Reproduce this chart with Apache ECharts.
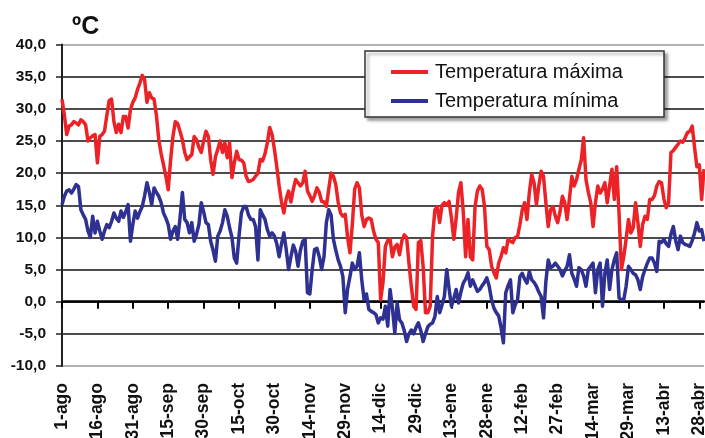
<!DOCTYPE html>
<html>
<head>
<meta charset="utf-8">
<script src="https://cdn.jsdelivr.net/npm/echarts@6/dist/echarts.min.js"></script>
<style>html,body{margin:0;padding:0;background:#fff;}#c{width:705px;height:438px;}</style>
</head>
<body>
<div id="c"></div>
<script>
var monthNames = ['ago','sep','oct','nov','dic','ene','feb','mar','abr'];
var monthDays = [31,30,31,30,31,31,28,31,30];
var yTicks = [-10,-5,0,5,10,15,20,25,30,35,40];

var tMax = [31.5,29,26,27.3,27.5,28,27.8,27.5,28.3,28,27.5,25,25.5,25.8,26,21.6,25.7,26,26.5,29,31.3,31.5,28,26.3,27.6,26.3,28.8,28.8,27,29.9,31,31.7,33,34,35.2,34.5,31,32.5,31.7,31.5,29,25.2,23,21.3,19.5,17.4,22,25.7,28,27.7,26.5,25.2,23.2,22.1,22.5,22.9,25.7,25.2,24,23.2,25,26.5,25.7,22,19.8,22.5,23.7,25,23.2,24.7,22.4,24.7,19.3,21.6,23.4,22.1,22,21.6,19.5,18.7,18.8,19,19.5,20,22.1,21.9,23,24.7,27.1,26,23.7,21,18,15.5,13.8,16,17.2,15.5,17.5,19,18.5,18,18.5,20.3,17.2,16.5,15.6,16.5,17.7,17,15.6,15.5,14.8,17.5,20,19.5,18.2,15.5,13.8,13.3,13.6,10,7.6,12,17.5,18.5,17.7,13.5,11.7,12.8,13,12.8,11,9.7,9.2,0.3,3,8.6,9.5,9.7,7,8.5,8.9,7.3,9.5,10.4,10,6,2.4,-0.7,-1.2,9.2,9.5,5.5,-1.7,-1.7,-0.7,10.2,14.3,14.8,12.3,15,15.4,15,15.6,13,9.7,13,17,18.5,14,7,12.8,7,6.5,14.8,17.2,18,17.5,14.8,8.6,8.1,5.5,4.5,3.7,6,7,8.4,7.6,9.7,9.4,9.2,10,10.1,12,14.3,15.4,12.8,17,19.8,18.5,15.1,18,20.3,19.5,15.4,11.7,14.3,14.8,13.3,12.3,14,16.4,15.4,12.8,16,19.5,18,19,20.6,22,25.5,19,17,15.4,11.7,15.4,18,16.9,17.5,18.5,15.4,18,20.6,15.9,21,13.8,5,7,9.7,12.8,10.7,11.5,15.4,12.3,8.6,12,13.3,12.8,15.9,15.9,16.5,18,18.7,18.5,16,14.6,15.4,23.2,23.5,24,24.5,25,24.8,25.5,26.3,26.5,27.3,24,21,21.3,15.9,20.6];

var tMin = [15.1,16.4,17.2,17.4,16.9,17.5,18.2,17.9,14.3,13.5,12.8,11,10,13.3,10.7,12.5,11,9.7,11,12,11.5,12.5,13.8,13,12.5,14.1,13.1,14,15.1,9.4,12,14.1,13,14,14.8,16.5,18.5,17,15.1,17.7,17,16.4,15.4,13.8,13,12,9.7,11,11.7,9.7,13,17,12.8,12.3,10.7,12.3,9.4,10.5,12,15.4,14,12.3,12,9.4,8,6.3,10.2,11,12.3,14.3,13.3,11.5,10,6.8,6,10.2,13.8,14.8,14.8,13.5,12.8,12.8,11.7,6.5,14.3,13.5,12.8,11.2,10.2,10.7,10.2,9,7,9,10.7,8.1,5,7,8.8,7.8,5.5,8,9.4,9.7,1.4,1.2,5,8.1,8.3,7,5,7,12.3,14.3,13.5,9.7,8,6.5,5.5,3.9,-1.7,2,3.9,6,5,5.5,7.6,3.4,0.3,1.2,-1.2,-1.5,-1.7,-2,-3.3,-2.5,-2.7,-0.7,-3.8,1.9,-1,-4.9,-0.2,-2.8,-3.3,-4.5,-6.2,-5,-4.4,-5,-4,-3.3,-4.5,-6.2,-5,-3.9,-3.5,-3.3,-2.3,0.8,-1.7,-0.5,0.8,5,2,-0.7,0.5,1.9,-0.2,1.5,2.9,3.5,4.5,2.4,3.4,2.5,1.6,1.9,2.5,3,3.7,2.4,0.3,-1,-1.7,-2.2,-4,-6.4,1.4,2.5,3.4,-1.7,-0.5,0.3,3.9,4.4,3.5,2.9,4.7,3.4,3,2.4,1.5,0.8,-2.5,3.1,6.5,5.3,5.5,6,5.5,5,4,4.8,5.5,7.3,4.4,3.5,2.4,5.3,5,4,2.4,5,5.5,6,1.4,5,6,-0.7,4.4,6.5,1.9,5,6.5,7.6,0.6,0.3,0.3,2.4,5.5,5,4.4,4.2,3.4,1.9,3.9,5,6,6.8,6.8,6,4.7,9.4,9.2,9.7,9,8.6,10.5,11.7,9.5,8.1,10.2,9.2,8.9,8.8,8.6,9.5,10.7,12.3,11,11.2,9.4];

var days = [];
monthNames.forEach(function(m, i){
  for (var d = 1; d <= monthDays[i]; d++) days.push(d + '-' + m);
});
var n = Math.max(tMax.length, tMin.length);
days = days.slice(0, Math.max(n, 1));

var chart = echarts.init(document.getElementById('c'));
var FONT = '"Liberation Sans", Arial, sans-serif';
var splitColors = yTicks.map(function(v, i){ return (i === 0 || i === yTicks.length - 1) ? '#9a9a9a' : '#111'; });
var every15 = function(i){ return i % 15 === 0; };

chart.setOption({
  animation: false,
  backgroundColor: '#fff',
  title: {
    text: 'ºC', left: 67, top: 10,
    textStyle: { fontFamily: FONT, fontSize: 25, fontWeight: 'bold', color: '#111' }
  },
  graphic: [{
    type: 'rect', z: 50,
    shape: { x: 365, y: 51, width: 299, height: 66 },
    style: { fill: '#fff', stroke: '#333', lineWidth: 1.5,
             shadowBlur: 3, shadowOffsetX: 3, shadowOffsetY: 3, shadowColor: 'rgba(0,0,0,0.35)' }
  }],
  legend: {
    orient: 'vertical', left: 386, top: 57, z: 60,
    itemWidth: 37, itemHeight: 4, itemGap: 9, icon: 'rect',
    textStyle: { fontFamily: FONT, fontSize: 20, color: '#111', padding: [0,0,0,2] },
    data: ['Temperatura máxima', 'Temperatura mínima']
  },
  grid: { left: 62, right: 1, top: 44.5, bottom: 72, containLabel: false, outerBoundsMode: 'none' },
  xAxis: [{
    type: 'category', data: days, boundaryGap: false,
    axisLine: { onZero: true, lineStyle: { color: '#000', width: 2.5 } },
    axisTick: { show: true, interval: every15, length: 7, inside: false, lineStyle: { color: '#000', width: 2 } },
    axisLabel: { show: false },
    splitLine: { show: false }
  }, {
    type: 'category', data: days, boundaryGap: false, position: 'bottom',
    axisLine: { show: false, onZero: false },
    axisTick: { show: false },
    axisLabel: { show: true, interval: every15, rotate: 90, margin: 17, hideOverlap: false,
                 fontFamily: FONT, fontSize: 17.5, fontWeight: 'bold', color: '#111' },
    splitLine: { show: false }
  }],
  yAxis: {
    type: 'value', min: -10, max: 40, interval: 5,
    axisLine: { show: true, lineStyle: { color: '#222', width: 2 } },
    axisTick: { show: true, length: 6, lineStyle: { color: '#222', width: 1.5 } },
    axisLabel: { margin: 16, fontFamily: FONT, fontSize: 15.5, fontWeight: 'bold', color: '#111',
                 formatter: function(v){ return v.toFixed(1).replace('.', ','); } },
    splitLine: { show: true, lineStyle: { color: splitColors, width: 1.5 } }
  },
  series: [{
    name: 'Temperatura máxima', type: 'line', data: tMax, xAxisIndex: 0,
    symbol: 'none', color: '#ec2227',
    lineStyle: { width: 3.5, color: '#ec2227', join: 'round' }, z: 3
  }, {
    name: 'Temperatura mínima', type: 'line', data: tMin, xAxisIndex: 0,
    symbol: 'none', color: '#2e3192',
    lineStyle: { width: 3.5, color: '#2e3192', join: 'round' }, z: 2
  }]
});
</script>
</body>
</html>
